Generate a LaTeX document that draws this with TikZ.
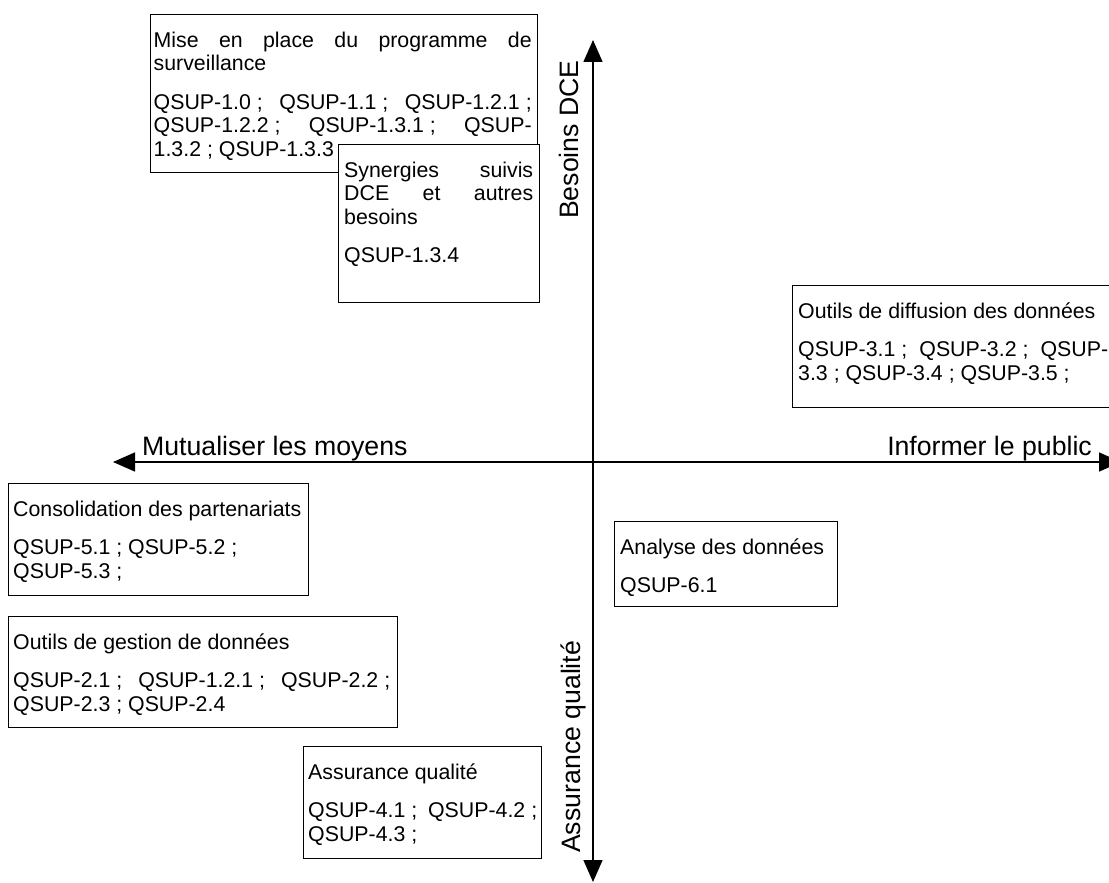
\documentclass[tikz,border=0pt]{standalone}
\usepackage{fontspec}
\setmainfont{Liberation Sans}
\usetikzlibrary{arrows.meta}
% a line whose inter-word spaces stretch to the full text width
\newcommand\justline[1]{\makebox[\linewidth][s]{#1}}
\hyphenpenalty=10000
\begin{document}
\begin{tikzpicture}[x=1pt,y=-1pt,
  frame/.style={draw=black, line width=1.3pt, fill=white, inner sep=0pt, anchor=north west},
  boxtext/.style={anchor=north west, inner sep=0pt, align=justify,
    font={\fontsize{21.33pt}{23.5pt}\selectfont},
    execute at begin node=\strut},
  axislabel/.style={inner sep=0pt, font={\fontsize{26.67pt}{30pt}\selectfont}},
  axis/.style={line width=1.5pt,
    {Triangle[length=22pt,width=19pt]}-{Triangle[length=22pt,width=19pt]}}]

\clip (0,0) rectangle (1109,883);
\fill[white] (0,0) rectangle (1109,883);

% the two axes
\coordinate (ytop) at (593,40);
\coordinate (ybot) at (593,882);
\coordinate (xleft) at (113,462);
\coordinate (xright) at (1121,462);
\draw[axis] (ybot) -- (ytop);
\draw[axis] (xleft) -- (xright);

% axis labels
\node[axislabel, anchor=base west] (lmut) at (142,455) {Mutualiser les moyens};
\node[axislabel, anchor=base east] (linf) at (1092,455) {Informer le public};
\node[axislabel, rotate=90, anchor=base east] (lbes) at (578,60) {Besoins DCE};
\node[axislabel, rotate=90, anchor=base west] (lass) at (580,853) {Assurance qualité};

% setting up the monitoring programme
\node[frame, minimum width=387pt, minimum height=158pt] (f1) at (150,14) {};
\node[boxtext, text width=378pt] (t1) at ([xshift=3.5pt, yshift=-16.5pt]f1.north west)
  {\justline{Mise en place du programme de}\\
   surveillance\\[15pt]
   \justline{\mbox{QSUP-1.0 ;} \mbox{QSUP-1.1 ;} \mbox{QSUP-1.2.1 ;}}\\
   \justline{\mbox{QSUP-1.2.2 ;} \mbox{QSUP-1.3.1 ;} QSUP-}\\
   1.3.2 ; QSUP-1.3.3};

% synergies
\node[frame, minimum width=201pt, minimum height=158pt] (f2) at (338,144) {};
\node[boxtext, text width=189pt] (t2) at ([xshift=6pt, yshift=-16.5pt]f2.north west)
  {\justline{Synergies suivis}\\
   \justline{DCE et autres}\\
   besoins\\[15pt]
   QSUP-1.3.4};

% data dissemination tools
\node[frame, minimum width=330pt, minimum height=122pt] (f3) at (792,285) {};
\node[boxtext, text width=310pt] (t3) at ([xshift=6pt, yshift=-16.5pt]f3.north west)
  {Outils de diffusion des données\\[15pt]
   \justline{\mbox{QSUP-3.1 ;} \mbox{QSUP-3.2 ;} QSUP-}\\
   3.3 ; QSUP-3.4 ; QSUP-3.5 ;};

% data analysis
\node[frame, minimum width=223pt, minimum height=85pt] (f4) at (614,521) {};
\node[boxtext, text width=210pt] (t4) at ([xshift=6pt, yshift=-16.5pt]f4.north west)
  {Analyse des données\\[15pt]
   QSUP-6.1};

% partnerships
\node[frame, minimum width=300pt, minimum height=112pt] (f5) at (8,483) {};
\node[boxtext, text width=296pt] (t5) at ([xshift=5pt, yshift=-16.5pt]f5.north west)
  {Consolidation des partenariats\\[15pt]
   QSUP-5.1 ; QSUP-5.2 ;\\
   QSUP-5.3 ;};

% data management tools
\node[frame, minimum width=389pt, minimum height=111pt] (f6) at (8,616) {};
\node[boxtext, text width=377pt] (t6) at ([xshift=5pt, yshift=-16.5pt]f6.north west)
  {Outils de gestion de données\\[15pt]
   \justline{\mbox{QSUP-2.1 ;} \mbox{QSUP-1.2.1 ;} \mbox{QSUP-2.2 ;}}\\
   QSUP-2.3 ; QSUP-2.4};

% quality assurance
\node[frame, minimum width=238pt, minimum height=112pt] (f7) at (303,746) {};
\node[boxtext, text width=229pt] (t7) at ([xshift=5pt, yshift=-16.5pt]f7.north west)
  {Assurance qualité\\[15pt]
   \justline{\mbox{QSUP-4.1 ;} \mbox{QSUP-4.2 ;}}\\
   QSUP-4.3 ;};

\end{tikzpicture}
\end{document}
